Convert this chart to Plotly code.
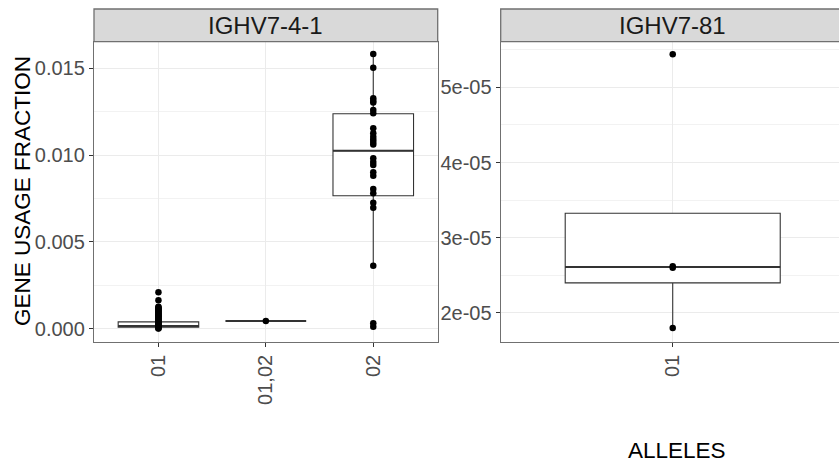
import plotly.graph_objects as go

# ---------------- data ----------------
left_title = "IGHV7-4-1"
right_title = "IGHV7-81"
left_cats = ["01", "01,02", "02"]
right_cats = ["01"]

# box statistics
left_q1 = [0.00008, 0.00043, 0.00765]
left_med = [0.00015, 0.00043, 0.01025]
left_q3 = [0.00038, 0.00043, 0.01238]
left_lo = [0.0, 0.00043, 0.00362]
left_hi = [0.00082, 0.00043, 0.01582]

right_q1 = [2.40e-05]
right_med = [2.61e-05]
right_q3 = [3.325e-05]
right_lo = [1.80e-05]
right_hi = [3.325e-05]

# individual observations
pts_01 = [0.00209, 0.00163, 0.00126, 0.00121, 0.00116, 0.00111, 0.00106, 0.00101,
          0.00096, 0.00091, 0.00086, 0.00081, 0.00076, 0.00071, 0.00066, 0.00061,
          0.00056, 0.00051, 0.00046, 0.00041, 0.00036, 0.00031, 0.00026, 0.00021,
          0.00016, 0.00011, 0.00006, 0.00002, 0.0]
pts_0102 = [0.00043]
pts_02 = [0.01582, 0.01503, 0.01327, 0.01313, 0.01302, 0.01259, 0.01240, 0.01154,
          0.01125, 0.01105, 0.01090, 0.01075, 0.01060, 0.00981, 0.00960, 0.00942,
          0.00900, 0.00880, 0.00804, 0.00779, 0.00725, 0.00696, 0.00362, 0.00030,
          0.00010]
pts_right_01 = [5.44e-05, 2.62e-05, 2.60e-05, 1.80e-05]

left_ticks = [0.0, 0.005, 0.010, 0.015]
right_ticks = [2e-05, 3e-05, 4e-05, 5e-05]
right_ticktext = ["2e-05", "3e-05", "4e-05", "5e-05"]
right_minor = [2.5e-05, 3.5e-05, 4.5e-05, 5.5e-05]

# ---------------- style ----------------
W, H = 839, 468
FONT = "Liberation Sans, Arial, sans-serif"
BORDER = "#707070"
GRID = "#EBEBEB"
BOXLINE = "#333333"
BOXW = 0.75

def px_x(p):
    return p / W

def px_y(p):
    return (H - p) / H

lx0, lx1 = px_x(94), px_x(437.7)
rx0, rx1 = px_x(500.7), 1.0
py0, py1 = px_y(341.7), px_y(41.7)
sy0, sy1 = px_y(41.7), px_y(9)

fig = go.Figure()

# left boxes
fig.add_trace(go.Box(
    x=list(range(len(left_cats))), q1=left_q1, median=left_med, q3=left_q3,
    lowerfence=left_lo, upperfence=left_hi, width=BOXW, boxpoints=False,
    whiskerwidth=0,
    fillcolor="white", line=dict(color=BOXLINE, width=1.1),
    xaxis="x", yaxis="y", showlegend=False))
# thicker medians
for i, m in enumerate(left_med):
    fig.add_trace(go.Scatter(x=[i - BOXW / 2, i + BOXW / 2], y=[m, m], mode="lines",
                             line=dict(color=BOXLINE, width=2), xaxis="x", yaxis="y",
                             showlegend=False, hoverinfo="skip"))

# right box
fig.add_trace(go.Box(
    x=list(range(len(right_cats))), q1=right_q1, median=right_med, q3=right_q3,
    lowerfence=right_lo, upperfence=right_hi, width=BOXW, boxpoints=False,
    whiskerwidth=0,
    fillcolor="white", line=dict(color=BOXLINE, width=1.1),
    xaxis="x2", yaxis="y2", showlegend=False))
for i, m in enumerate(right_med):
    fig.add_trace(go.Scatter(x=[i - BOXW / 2, i + BOXW / 2], y=[m, m], mode="lines",
                             line=dict(color=BOXLINE, width=2), xaxis="x2", yaxis="y2",
                             showlegend=False, hoverinfo="skip"))

# points
mk = dict(color="black", size=6.5)
for i, pts in enumerate([pts_01, pts_0102, pts_02]):
    fig.add_trace(go.Scatter(x=[i] * len(pts), y=pts, mode="markers", marker=mk,
                             xaxis="x", yaxis="y", showlegend=False))
fig.add_trace(go.Scatter(x=[0] * len(pts_right_01), y=pts_right_01, mode="markers",
                         marker=mk, xaxis="x2", yaxis="y2", showlegend=False))

tickfont = dict(family=FONT, size=20, color="#4D4D4D")
common_x = dict(tickangle=-90, ticks="outside", ticklen=4, tickwidth=1, tickcolor="#333333",
                showgrid=True, gridcolor=GRID, gridwidth=1, zeroline=False,
                showline=True, linecolor=BORDER, linewidth=1.3, tickfont=tickfont,
                fixedrange=True)
common_y = dict(ticks="outside", ticklen=4, tickwidth=1, tickcolor="#333333",
                showgrid=True, gridcolor=GRID, gridwidth=1, zeroline=False,
                showline=True, linecolor=BORDER, linewidth=1.3, tickfont=tickfont,
                fixedrange=True)

fig.update_layout(
    width=W, height=H,
    margin=dict(l=0, r=0, t=0, b=0),
    paper_bgcolor="white", plot_bgcolor="white",
    showlegend=False,
    xaxis=dict(domain=[lx0, lx1], range=[-0.6, 2.6], tickmode="array",
               tickvals=list(range(len(left_cats))), ticktext=left_cats,
               mirror=True, anchor="y", **common_x),
    yaxis=dict(domain=[py0, py1], range=[-0.00076, 0.01653], tickmode="array",
               tickvals=left_ticks, ticktext=[f"{v:.3f}" for v in left_ticks],
               minor=dict(tickmode="linear", tick0=0, dtick=0.0025, showgrid=True,
                          gridcolor="#F2F2F2", ticks=""),
               mirror=True, anchor="x", **common_y),
    xaxis2=dict(domain=[rx0, rx1], range=[-0.6, 0.58], tickmode="array",
                tickvals=list(range(len(right_cats))), ticktext=right_cats,
                anchor="y2", **common_x),
    yaxis2=dict(domain=[py0, py1], range=[1.618e-05, 5.606e-05], tickmode="array",
                tickvals=right_ticks, ticktext=right_ticktext,
                minor=dict(tickmode="array", tickvals=right_minor, showgrid=True,
                           gridcolor="#F2F2F2", ticks=""),
                anchor="x2", **common_y),
)

# strips
for x0, x1 in [(lx0, lx1), (rx0, rx1 + 0.02)]:
    fig.add_shape(type="rect", xref="paper", yref="paper", x0=x0, x1=x1, y0=sy0, y1=sy1,
                  fillcolor="#D9D9D9", line=dict(color=BORDER, width=1.3), layer="above")

strip_font = dict(family=FONT, size=24, color="#1A1A1A")
fig.add_annotation(x=(lx0 + lx1) / 2, y=(sy0 + sy1) / 2, xref="paper", yref="paper",
                   text=left_title, showarrow=False, font=strip_font,
                   xanchor="center", yanchor="middle")
fig.add_annotation(x=px_x(672.7), y=(sy0 + sy1) / 2, xref="paper", yref="paper",
                   text=right_title, showarrow=False, font=strip_font,
                   xanchor="center", yanchor="middle")

title_font = dict(family=FONT, size=22.5, color="black")
fig.add_annotation(x=px_x(22), y=px_y(191), xref="paper", yref="paper",
                   text="GENE USAGE FRACTION", textangle=-90, showarrow=False,
                   font=title_font, xanchor="center", yanchor="middle")
fig.add_annotation(x=px_x(676.7), y=px_y(450), xref="paper", yref="paper",
                   text="ALLELES", showarrow=False, font=title_font,
                   xanchor="center", yanchor="middle")

fig.write_html("out.html")
